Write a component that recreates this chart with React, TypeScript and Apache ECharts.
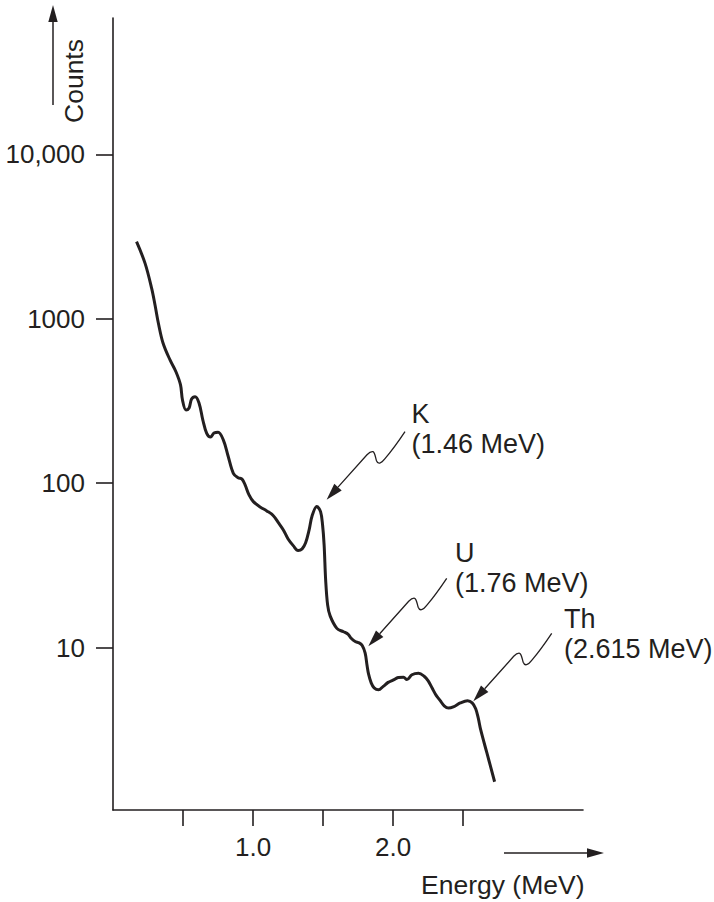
import React, { useEffect, useRef } from "react";
import * as echarts from "echarts";

// Gamma-ray spectrum: energy (MeV) vs counts (log scale)
const energy = [
  0.168, 0.229, 0.276, 0.3, 0.324, 0.357, 0.407, 0.45, 0.482, 0.496,
  0.521, 0.543, 0.561, 0.586, 0.614, 0.641, 0.669, 0.696, 0.721, 0.75,
  0.788, 0.821, 0.859, 0.893, 0.921, 0.943, 0.971, 1.002, 1.05, 1.098,
  1.143, 1.179, 1.216, 1.25, 1.288, 1.321, 1.35, 1.375, 1.4, 1.421,
  1.455, 1.482, 1.496, 1.507, 1.518, 1.532, 1.55, 1.598, 1.645, 1.679,
  1.7, 1.729, 1.757, 1.779, 1.8, 1.813, 1.824, 1.843, 1.864, 1.895,
  1.929, 1.964, 2.002, 2.036, 2.074, 2.098, 2.134, 2.181, 2.221, 2.25,
  2.279, 2.307, 2.336, 2.364, 2.395, 2.429, 2.479, 2.531, 2.564, 2.589,
  2.607, 2.625, 2.669, 2.724,
];
const counts = [
  2944, 2173, 1531, 1213, 940, 713, 562, 475, 396, 321,
  279, 287, 325, 336, 308, 243, 201, 191, 202, 204,
  183, 147, 115, 108, 106, 97.7, 84.9, 77.3, 71.8, 67.9,
  63.7, 57.8, 52, 45.8, 41.6, 39, 39.9, 43.4, 52, 63.2,
  72.1, 67, 55.7, 42.2, 25.8, 18.2, 15.6, 13.1, 12.5, 12.05,
  11.4, 10.9, 10.7, 10.3, 9.26, 7.85, 6.93, 6.11, 5.7, 5.54,
  5.82, 6.15, 6.37, 6.59, 6.62, 6.4, 6.84, 6.98, 6.7, 6.28,
  5.66, 5.13, 4.76, 4.43, 4.29, 4.36, 4.61, 4.76, 4.62, 4.25,
  3.74, 3.16, 2.29, 1.53,
];
const xTickValues = [0.5, 1.0, 1.5, 2.0, 2.5];
const xLabelValues = [1.0, 2.0];
const yTickValues = [10, 100, 1000, 10000];
const yTickLabels = ["10", "100", "1000", "10,000"];
const annotationNames = ["K", "U", "Th"];
const annotationEnergies = ["(1.46 MeV)", "(1.76 MeV)", "(2.615 MeV)"];

const INK = "#231f20";
const FONT = '"Liberation Sans", Arial, Helvetica, sans-serif';

const SQUIGGLE_D =
  "M0 0 C-6 9 -14 20 -20 27 C-24 32 -27 33 -28.5 29 C-29.5 26 -30 21 -32 20 C-34 19.5 -36 21 -38 23 L-67 55.4";

let registered = false;
function ensureShapes() {
  if (registered) return;
  echarts.graphic.registerShape(
    "squiggle",
    echarts.graphic.extendPath(SQUIGGLE_D, {}) as any
  );
  registered = true;
}

export default function App() {
  const ref = useRef<HTMLDivElement>(null);

  useEffect(() => {
    if (!ref.current) return;
    ensureShapes();
    const chart = echarts.init(ref.current, null, { renderer: "svg" });

    // annotation layout (pixels): start of squiggle arrow, label position
    const arrowStarts = [
      [405, 431.7],
      [446.7, 578.3],
      [551.7, 633.3],
    ];
    const labelPos = [
      [411.5, 399],
      [455, 537.5],
      [564, 603.7],
    ];

    const graphics: any[] = [];
    annotationNames.forEach((name, i) => {
      const [sx, sy] = arrowStarts[i];
      graphics.push({
        type: "squiggle",
        x: sx,
        y: sy,
        silent: true,
        style: { fill: "none", stroke: INK, lineWidth: 1.3 },
      });
      graphics.push({
        type: "polygon",
        silent: true,
        shape: {
          points: [
            [sx - 78.4, sy + 68],
            [sx - 63.3, sy + 58.7],
            [sx - 70.7, sy + 52.1],
          ],
        },
        style: { fill: INK, stroke: "none" },
      });
      graphics.push({
        type: "text",
        x: labelPos[i][0],
        y: labelPos[i][1],
        silent: true,
        style: {
          text: name + "\n" + annotationEnergies[i],
          fontSize: 27,
          fontFamily: FONT,
          lineHeight: 30,
          fill: INK,
          align: "left",
          verticalAlign: "top",
        },
      });
    });

    // axis titles and arrows
    graphics.push(
      {
        type: "text",
        x: 74,
        y: 81,
        rotation: Math.PI / 2,
        silent: true,
        style: {
          text: "Counts",
          fontSize: 26.5,
          fontFamily: FONT,
          fill: INK,
          align: "center",
          verticalAlign: "middle",
        },
      },
      {
        type: "line",
        silent: true,
        shape: { x1: 53, y1: 105, x2: 53, y2: 20 },
        style: { stroke: INK, lineWidth: 1.5 },
      },
      {
        type: "polygon",
        silent: true,
        shape: { points: [[53, 5], [48.3, 22], [57.7, 22]] },
        style: { fill: INK },
      },
      {
        type: "text",
        x: 584.5,
        y: 885,
        silent: true,
        style: {
          text: "Energy (MeV)",
          fontSize: 26.5,
          fontFamily: FONT,
          fill: INK,
          align: "right",
          verticalAlign: "middle",
        },
      },
      {
        type: "line",
        silent: true,
        shape: { x1: 504, y1: 853, x2: 590, y2: 853 },
        style: { stroke: INK, lineWidth: 1.5 },
      },
      {
        type: "polygon",
        silent: true,
        shape: { points: [[604, 853], [587, 848.3], [587, 857.7]] },
        style: { fill: INK },
      }
    );

    const axisLineStyle = { color: INK, width: 1.6 };

    chart.setOption({
      animation: false,
      grid: { left: 113, right: 131, top: 18, bottom: 92 },
      xAxis: {
        type: "value",
        min: 0,
        max: 3.355,
        axisLine: { show: true, lineStyle: axisLineStyle },
        axisTick: {
          show: true,
          length: 16,
          lineStyle: axisLineStyle,
          customValues: xTickValues,
        },
        axisLabel: {
          customValues: xLabelValues,
          formatter: (v: number) => v.toFixed(1),
          fontSize: 26,
          fontFamily: FONT,
          color: INK,
          margin: 24,
        },
        splitLine: { show: false },
      },
      yAxis: {
        type: "log",
        logBase: 10,
        min: 1.03,
        max: 67500,
        axisLine: { show: true, lineStyle: axisLineStyle },
        axisTick: {
          show: true,
          length: 17,
          lineStyle: axisLineStyle,
          customValues: yTickValues,
        },
        axisLabel: {
          customValues: yTickValues,
          formatter: (v: number) => {
            const idx = yTickValues.findIndex((t) => Math.abs(t - v) / t < 1e-6);
            return idx >= 0 ? yTickLabels[idx] : "";
          },
          fontSize: 26,
          fontFamily: FONT,
          color: INK,
          margin: 28,
        },
        splitLine: { show: false },
      },
      series: [
        {
          type: "line",
          data: energy.map((e, i) => [e, counts[i]]),
          smooth: 0.35,
          showSymbol: false,
          symbol: "none",
          lineStyle: { color: INK, width: 3 },
          silent: true,
        },
      ],
      graphic: graphics,
    });

    return () => chart.dispose();
  }, []);

  return (
    <div
      ref={ref}
      style={{ position: "absolute", left: 0, top: 0, width: 714, height: 902 }}
    />
  );
}
